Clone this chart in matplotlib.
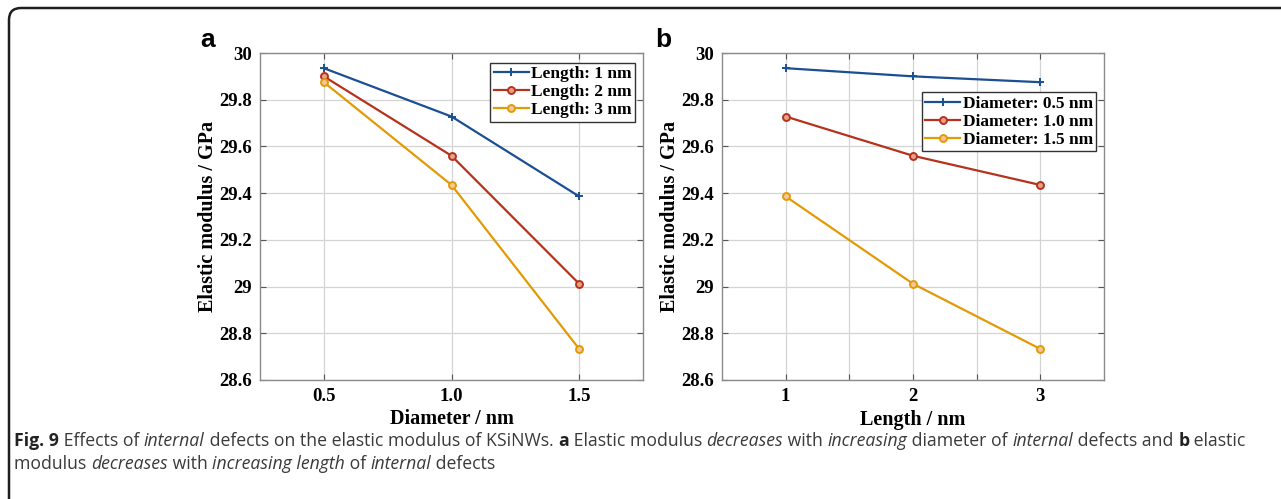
import matplotlib
matplotlib.use("Agg")
import matplotlib.pyplot as plt
from matplotlib.patches import FancyBboxPatch
from matplotlib.transforms import IdentityTransform

# data
diameters = [0.5, 1.0, 1.5]          # nm
lengths = [1, 2, 3]                  # nm
# modulus for each defect length, over diameter (GPa)
mod_len1 = [29.935, 29.728, 29.386]
mod_len2 = [29.900, 29.560, 29.012]
mod_len3 = [29.875, 29.435, 28.733]
# same values regrouped per diameter, over length
mod_d05 = [29.935, 29.900, 29.875]
mod_d10 = [29.728, 29.560, 29.435]
mod_d15 = [29.386, 29.012, 28.733]

len_labels = ["Length: 1 nm", "Length: 2 nm", "Length: 3 nm"]
dia_labels = ["Diameter: 0.5 nm", "Diameter: 1.0 nm", "Diameter: 1.5 nm"]
y_ticks = [28.6, 28.8, 29, 29.2, 29.4, 29.6, 29.8, 30]
y_ticklabels = ["28.6", "28.8", "29", "29.2", "29.4", "29.6", "29.8", "30"]

colors = ["#1b4f93", "#b5321c", "#e39a06"]
markers = ["+", "o", "o"]

W, H = 1281, 499
fig = plt.figure(figsize=(W / 100, H / 100), dpi=100)
serif = "Liberation Serif"


def style_axes(ax):
    ax.set_ylim(28.6, 30)
    ax.set_yticks(y_ticks)
    ax.set_yticklabels(y_ticklabels)
    ax.grid(True, color="#d4d4d4", linewidth=0.9)
    ax.set_axisbelow(True)
    ax.tick_params(direction="in", length=4, width=0.8, color="#555555",
                   top=True, right=True, labelsize=13.5, pad=6)
    for lab in ax.get_xticklabels() + ax.get_yticklabels():
        lab.set_fontfamily(serif)
        lab.set_fontweight("bold")
    for s in ax.spines.values():
        s.set_color("#8a8a8a")
        s.set_linewidth(1.0)
    ax.set_ylabel("Elastic modulus / GPa", fontsize=14.5, fontweight="bold",
                  fontfamily=serif, labelpad=1)


def draw_series(ax, x, ys, labels):
    for y, c, m, lab in zip(ys, colors, markers, labels):
        if m == "+":
            ax.plot(x, y, color=c, lw=1.6, marker=m, ms=6, mew=1.4, label=lab)
        else:
            ax.plot(x, y, color=c, lw=1.6, marker=m, ms=5, mew=1.4,
                    mfc="#f3c89a" if c == colors[2] else "#e8a08a", label=lab)


def add_legend(ax, anchor_y):
    leg = ax.legend(loc="upper right", bbox_to_anchor=(0.98, anchor_y),
                    prop={"family": serif, "weight": "bold", "size": 12.5},
                    fancybox=False, edgecolor="#333333", framealpha=1,
                    handlelength=2.0, handletextpad=0.15, borderpad=0.2,
                    labelspacing=0.1, borderaxespad=0)
    leg.get_frame().set_linewidth(1.0)


# panel a
ax1 = fig.add_axes([260 / W, 1 - 380 / H, 383 / W, 327 / H])
draw_series(ax1, diameters, [mod_len1, mod_len2, mod_len3], len_labels)
ax1.set_xlim(0.25, 1.75)
ax1.set_xticks(diameters)
ax1.set_xticklabels(["0.5", "1.0", "1.5"])
style_axes(ax1)
ax1.set_xlabel("Diameter / nm", fontsize=14.5, fontweight="bold", fontfamily=serif, labelpad=3)
add_legend(ax1, 0.97)

# panel b
ax2 = fig.add_axes([722 / W, 1 - 380 / H, 382 / W, 327 / H])
draw_series(ax2, lengths, [mod_d05, mod_d10, mod_d15], dia_labels)
ax2.set_xlim(0.5, 3.5)
ax2.set_xticks([1, 1.5, 2, 2.5, 3])
ax2.set_xticklabels(["1", "", "2", "", "3"])
style_axes(ax2)
ax2.set_xlabel("Length / nm", fontsize=14.5, fontweight="bold", fontfamily=serif, labelpad=3)
add_legend(ax2, 0.88)

# panel letters
fig.text(200 / W, 1 - 47 / H, "a", fontsize=19, fontweight="bold", fontfamily="Liberation Sans")
fig.text(655 / W, 1 - 47 / H, "b", fontsize=19, fontweight="bold", fontfamily="Liberation Sans")

# rounded frame open to the right and bottom
frame = FancyBboxPatch((9, -40), W + 60, H - 8 + 40, boxstyle="round,pad=0,rounding_size=12",
                       transform=IdentityTransform(), fill=False, edgecolor="#1e1e1e",
                       linewidth=1.8)
fig.add_artist(frame)

# caption with mixed styles
cap_font = "Open Sans"
cap_size = 12.7
line1 = [("Fig. 9", "bold", "normal"), (" Effects of ", "normal", "normal"),
         ("internal", "normal", "italic"),
         (" defects on the elastic modulus of KSiNWs. ", "normal", "normal"),
         ("a", "bold", "normal"), (" Elastic modulus ", "normal", "normal"),
         ("decreases", "normal", "italic"), (" with ", "normal", "normal"),
         ("increasing", "normal", "italic"), (" diameter of ", "normal", "normal"),
         ("internal", "normal", "italic"), (" defects and ", "normal", "normal"),
         ("b", "bold", "normal"), (" elastic", "normal", "normal")]
line2 = [("modulus ", "normal", "normal"), ("decreases", "normal", "italic"),
         (" with ", "normal", "normal"), ("increasing length", "normal", "italic"),
         (" of ", "normal", "normal"), ("internal", "normal", "italic"),
         (" defects", "normal", "normal")]

renderer = fig.canvas.get_renderer()


def put_line(runs, x0, ybase):
    x = x0
    for s, w, st in runs:
        t = fig.text(x, ybase, s, transform=IdentityTransform(), fontsize=cap_size,
                     fontweight=w, fontstyle=st, fontfamily=cap_font,
                     color="#222222" if w == "bold" else "#3a3a3a", va="baseline")
        bb = t.get_window_extent(renderer)
        x = bb.x1


put_line(line1, 14, H - 446)
put_line(line2, 14, H - 469)

fig.savefig("out.png", dpi=100)
